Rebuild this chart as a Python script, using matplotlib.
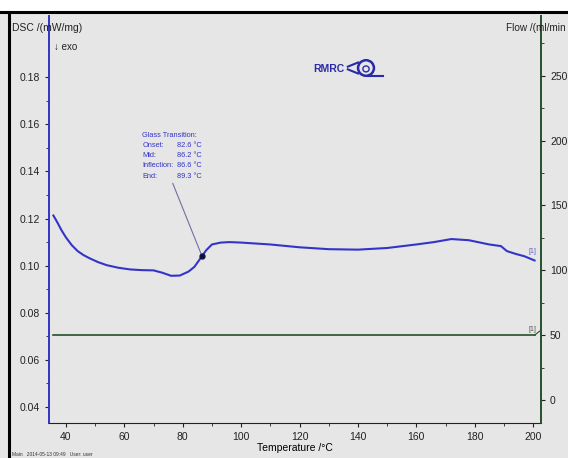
import matplotlib.pyplot as plt
import numpy as np
from matplotlib.patches import Ellipse, Rectangle
from matplotlib.lines import Line2D

plt.rcParams['font.family'] = ['Liberation Sans', 'DejaVu Sans']

# DSC signal
temp = [35.7, 37, 38.5, 40, 42, 44, 46, 48, 51, 54, 58, 62, 66, 70, 73, 76,
        79, 82, 84, 86, 88, 90, 93, 96, 100, 110, 120, 130, 140, 150, 160,
        166, 172, 178, 185, 189, 191, 194, 197, 200.5]
dsc = [0.1213, 0.1185, 0.1150, 0.1120, 0.1087, 0.1062, 0.1045, 0.1032, 0.1015,
       0.1002, 0.0991, 0.0984, 0.0981, 0.0980, 0.0970, 0.0957, 0.0958, 0.0975,
       0.0995, 0.1030, 0.1065, 0.1090, 0.1098, 0.1100, 0.1098, 0.1090, 0.1078,
       0.1070, 0.1068, 0.1075, 0.1090, 0.1100, 0.1113, 0.1108, 0.1090, 0.1083,
       0.1062, 0.1050, 0.1040, 0.1022]

# purge gas flow
flow_temp = [35.7, 200.5]
flow = [50, 50]

# glass transition results
tg_names = ["Onset:", "Mid:", "Inflection:", "End:"]
tg_values = [82.6, 86.2, 86.6, 89.3]

blue = "#3434c8"
green = "#24502a"
bg = "#e6e6e6"

fig = plt.figure(figsize=(5.68, 4.58), dpi=100, facecolor=bg)
# white strip on top and black frame lines
fig.patches.append(Rectangle((0, 1 - 11 / 458), 1, 11 / 458, transform=fig.transFigure,
                             facecolor="white", edgecolor="none", zorder=0))
fig.lines.append(Line2D([0, 1], [1 - 12 / 458, 1 - 12 / 458], transform=fig.transFigure,
                        color="black", lw=2.2))
fig.lines.append(Line2D([9 / 568, 9 / 568], [0, 1 - 12 / 458], transform=fig.transFigure,
                        color="black", lw=2.2))

ax = fig.add_axes([49 / 568, 1 - 423 / 458, (541 - 49) / 568, (423 - 16) / 458])
ax.set_facecolor(bg)
ax.plot(temp, dsc, color=blue, lw=1.5, zorder=3)
ax.set_xlim(34.2, 202.7)
ax.set_ylim(0.0332, 0.206)
ax.set_xticks(np.arange(40, 201, 20))
ax.set_xticks(np.arange(40, 201, 10), minor=True)
ax.set_yticks(np.arange(0.04, 0.181, 0.02))
ax.set_yticks(np.arange(0.04, 0.19, 0.01), minor=True)
ax.yaxis.set_major_formatter(plt.FuncFormatter(lambda v, p: f"{v:.2f}"))
ax.tick_params(axis="both", which="both", labelsize=7.5, colors="#222222", direction="out")
ax.tick_params(axis="both", which="major", length=3)
ax.tick_params(axis="both", which="minor", length=2)
ax.spines["top"].set_visible(False)
ax.spines["left"].set_color(blue)
ax.spines["left"].set_linewidth(1.4)
ax.spines["bottom"].set_color("#222222")
ax.spines["right"].set_visible(False)
ax.set_xlabel("Temperature /°C", fontsize=7.5, labelpad=1)

ax2 = ax.twinx()
ax2.plot(flow_temp, flow, color=green, lw=1.2)
ax2.plot([200.5, 202.2], [50, 53], color=green, lw=0.8)
ax2.set_ylim(-17.7, 296)
ax2.set_yticks(np.arange(0, 251, 50))
ax2.set_yticks(np.arange(0, 276, 25), minor=True)
ax2.tick_params(axis="y", which="both", labelsize=7.5, colors="#222222", direction="out")
ax2.tick_params(axis="y", which="major", length=3)
ax2.tick_params(axis="y", which="minor", length=2)
for s in ["top", "left", "bottom"]:
    ax2.spines[s].set_visible(False)
ax2.spines["right"].set_color(green)
ax2.spines["right"].set_linewidth(1.4)

# curve end tags
ax.text(198.5, 0.1055, "[1]", fontsize=5, color="#6060c0")
ax2.text(198.5, 53, "[1]", fontsize=5, color="#555555")

# glass transition annotation
t_inf = tg_values[2]
d_inf = np.interp(t_inf, temp, dsc)
ax.plot([t_inf], [d_inf], "o", color="#101040", ms=3.5, zorder=4)
ax.plot([76.6, t_inf], [0.1349, d_inf], color="#7070a0", lw=0.8, zorder=2)
ax.text(66.2, 0.1548, "Glass Transition:", fontsize=5.3, color=blue)
for i, (n, v) in enumerate(zip(tg_names, tg_values)):
    y = 0.1505 - i * 0.0044
    ax.text(66.2, y, n, fontsize=5.3, color=blue)
    ax.text(78.0, y, f"{v:.1f} °C", fontsize=5.3, color=blue)

# axis titles in the corners
fig.text(12 / 568, 1 - 28 / 458, "DSC /(mW/mg)", fontsize=7.5, color="#222222", va="center")
fig.text(566 / 568, 1 - 28 / 458, "Flow /(ml/min", fontsize=7.2, color="#222222",
         va="center", ha="right")
fig.text(54 / 568, 1 - 47 / 458, "↓ exo", fontsize=7, color="#222222", va="center")
fig.text(12 / 568, 1 - 454 / 458, "Main   2014-05-13 09:49   User: user", fontsize=3.5,
         color="#333333", va="center")

# RMRC logo
logo = "#2a2aa8"
fig.text(313 / 568, 1 - 69 / 458, "RMRC", fontsize=7.5, color=logo, weight="bold",
         va="center")
lx, ly = 366 / 568, 1 - 68 / 458
fig.patches.append(Ellipse((lx, ly), 0.028, 0.034, transform=fig.transFigure,
                           facecolor="none", edgecolor=logo, lw=1.8))
fig.patches.append(Ellipse((lx, ly - 0.002), 0.011, 0.013, transform=fig.transFigure,
                           facecolor="none", edgecolor=logo, lw=1.0))
fig.lines.append(Line2D([lx - 0.032, lx - 0.014], [ly + 0.003, ly + 0.012],
                        transform=fig.transFigure, color=logo, lw=1.5))
fig.lines.append(Line2D([lx - 0.032, lx - 0.014], [ly - 0.003, ly - 0.012],
                        transform=fig.transFigure, color=logo, lw=1.5))
fig.lines.append(Line2D([lx + 0.004, lx + 0.03], [ly - 0.017, ly - 0.017],
                        transform=fig.transFigure, color=logo, lw=1.5))

fig.savefig("out.png", dpi=100, facecolor=bg)
